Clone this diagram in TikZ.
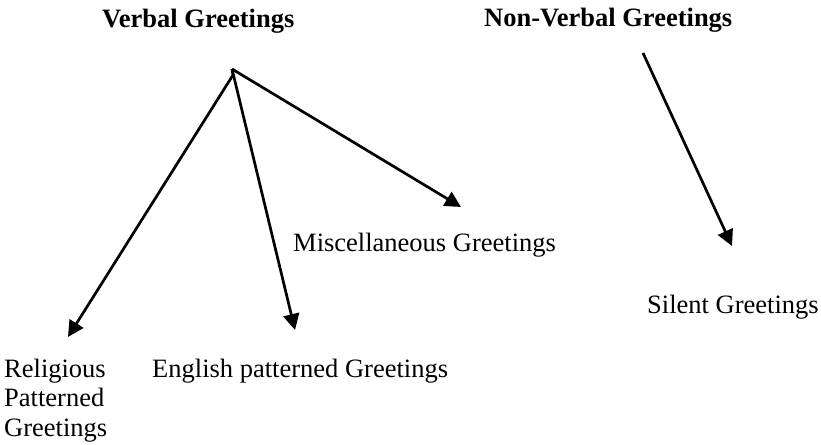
\documentclass[tikz,border=0pt]{standalone}
\usepackage{fontspec}
\setmainfont{Liberation Serif}
\usetikzlibrary{arrows.meta}
\begin{document}
\begin{tikzpicture}[x=1pt,y=-1pt,
  label text/.style={inner sep=0pt,anchor=base west,
    font=\fontsize{26.5}{29.5}\selectfont},
  heading/.style={label text,font=\fontsize{26.5}{29.5}\selectfont\bfseries},
  branch/.style={line width=2.7pt,-{Triangle[length=16pt,width=16pt]}}]
  \useasboundingbox (0,0) rectangle (821,444);

  % category headings
  \node[heading] (verbal) at (102,28) {Verbal Greetings};
  \node[heading] (nonverbal) at (484,27) {Non-Verbal Greetings};

  % sub-categories (a multi-line node sits on its last baseline)
  \node[label text,align=left] (religious) at (4,436)
    {Religious\\Patterned\\Greetings};
  \node[label text] (english) at (152,377) {English patterned Greetings};
  \node[label text] (misc) at (293,251) {Miscellaneous Greetings};
  \node[label text] (silent) at (647,313) {Silent Greetings};

  % branching points and arrow tips
  \coordinate (fork) at (232,69);
  \coordinate (forkLow) at (233,75);
  \coordinate (relTip) at (68,337);
  \coordinate (engTip) at (295,330);
  \coordinate (miscTip) at (461,207);
  \coordinate (nvStart) at (643,53);
  \coordinate (silTip) at (732,246);

  % connectors
  \draw[line width=2.7pt] (fork) -- (forkLow);
  \draw[branch] (forkLow) -- (relTip);
  \draw[branch] (fork) -- (engTip);
  \draw[branch] (fork) -- (miscTip);
  \draw[branch] (nvStart) -- (silTip);
\end{tikzpicture}
\end{document}
